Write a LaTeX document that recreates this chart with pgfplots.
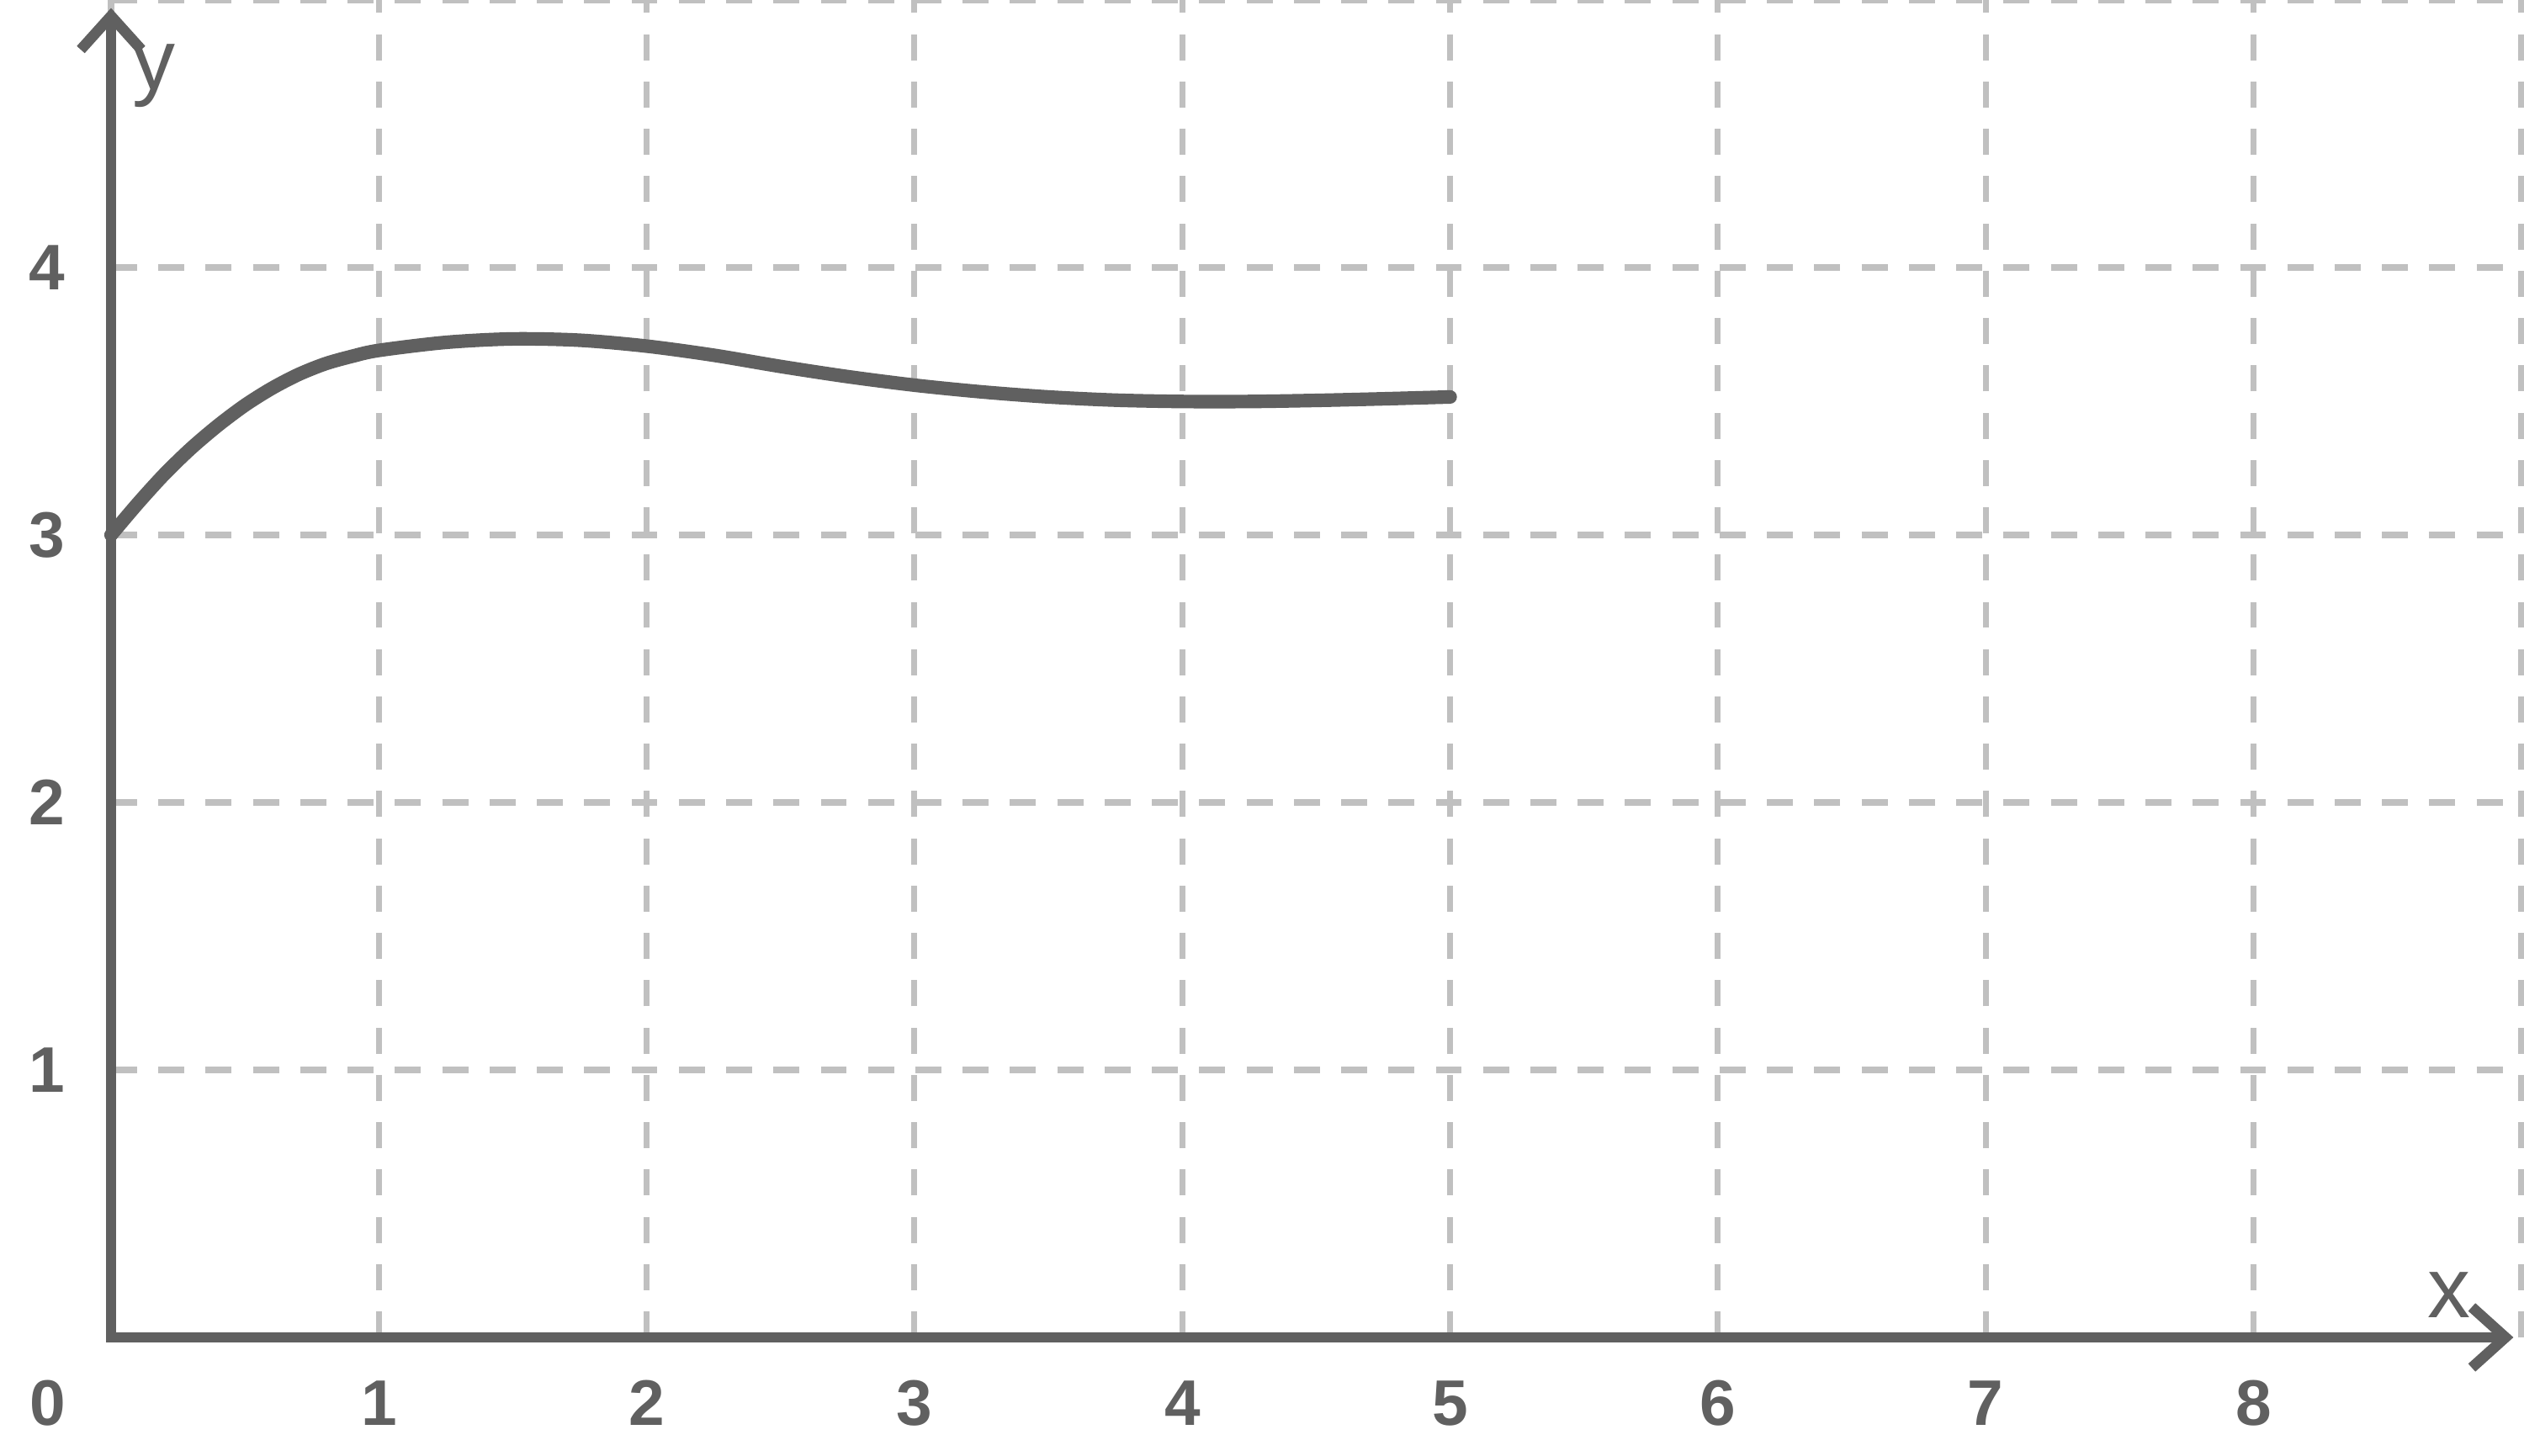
\documentclass[border=0pt]{standalone}
\usepackage{fontspec}
\setmainfont{Liberation Sans}
\usepackage{pgfplots}
\pgfplotsset{compat=1.18}
\usetikzlibrary{arrows.meta}

\definecolor{axisgray}{RGB}{96,96,96}
\definecolor{gridgray}{RGB}{192,192,192}

\begin{document}
\begin{tikzpicture}
\begin{axis}[
    scale only axis,
    width=14.325cm,
    height=7.95cm,
    xmin=0, xmax=9,
    ymin=0, ymax=5,
    xtick={0,...,9},
    xticklabels={,1,2,3,4,5,6,7,8,},
    ytick={0,...,5},
    yticklabels={,1,2,3,4,},
    major tick length=0pt,
    axis line style={draw=none},
    grid=major,
    major grid style={gridgray, line width=1pt, dash pattern=on 4.4pt off 3.6pt},
    /pgf/number format/assume math mode=true,
    ticklabel style={font=\fontsize{10.9}{13}\selectfont\bfseries, text=axisgray, inner sep=0pt},
    xticklabel style={anchor=north, yshift=-0.25cm},
    yticklabel style={anchor=east, xshift=-0.265cm},
    clip=false,
]

% the curve
\addplot[axisgray, line width=2.3pt, smooth, line cap=round] coordinates {
    (0,3.000) (0.1,3.118) (0.2,3.228) (0.3,3.325) (0.4,3.410) (0.5,3.485)
    (0.6,3.548) (0.7,3.600) (0.8,3.640) (0.9,3.668) (1.0,3.690)
    (1.25,3.720) (1.5,3.733) (1.75,3.728) (2.0,3.706) (2.25,3.672)
    (2.5,3.630) (2.75,3.592) (3.0,3.560) (3.25,3.535) (3.5,3.516)
    (3.75,3.504) (4.0,3.499) (4.25,3.499) (4.5,3.503) (4.75,3.509) (5.0,3.516)
};

% axes with open arrow heads
\draw[axisgray, line width=1.8pt, line join=miter,
    {Straight Barb[length=0.2cm, width=0.36cm]}-{Straight Barb[length=0.2cm, width=0.36cm]}]
    (axis cs:0,4.97) -- (axis cs:0,0) -- (axis cs:8.97,0);
\end{axis}

\node[anchor=base, text=axisgray, font=\fontsize{14.5}{17}\selectfont, inner sep=0pt] at (0.255cm,7.415cm) {y};
\node[anchor=base, text=axisgray, font=\fontsize{14.5}{17}\selectfont, inner sep=0pt] at (13.895cm,0.115cm) {x};
\node[text=axisgray, font=\fontsize{10.9}{13}\selectfont\bfseries, inner sep=0pt] at (-0.375cm,-0.39cm) {0};

\pgfresetboundingbox
\path (-0.66cm,-0.705cm) rectangle (14.34cm,7.95cm);
\end{tikzpicture}
\end{document}
